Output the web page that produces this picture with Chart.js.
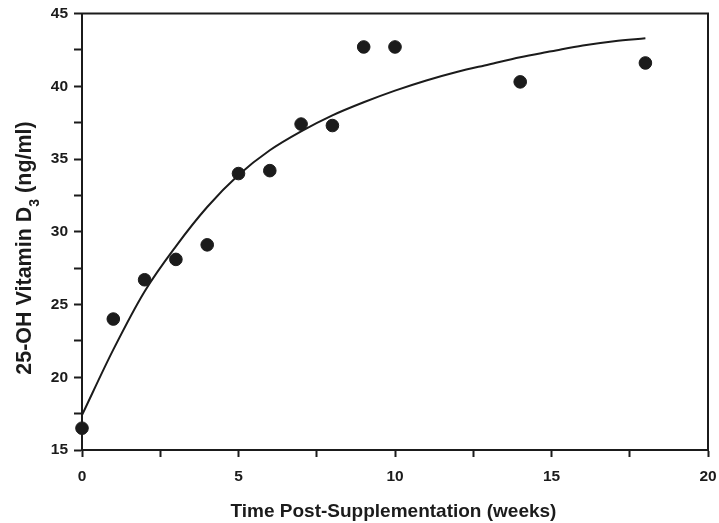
<!DOCTYPE html>
<html>
<head>
<meta charset="utf-8">
<script src="https://cdn.jsdelivr.net/npm/chart.js@4"></script>
<style>
  html, body { margin: 0; padding: 0; background: #fff; }
  #wrap { width: 719px; height: 523px; }
</style>
</head>
<body>
<div id="wrap"><canvas id="myChart"></canvas></div>
<script>
// measured points
const weeks = [0, 1, 2, 3, 4, 5, 6, 7, 8, 9, 10, 14, 18];
const vitD = [16.5, 24.0, 26.7, 28.1, 29.1, 34.0, 34.2, 37.4, 37.3, 42.7, 42.7, 40.3, 41.6];

// fitted curve
const fitWeeks = [0, 1, 2, 3, 4, 5, 6, 7, 8, 9, 10, 11, 12, 13, 14, 15, 16, 17, 18];
const fitVitD = [17.4, 21.9, 25.9, 29.0, 31.7, 33.9, 35.6, 36.9, 38.0, 38.9, 39.7, 40.4, 41.0, 41.5, 42.0, 42.4, 42.8, 43.1, 43.3];

const xTicks = [0, 5, 10, 15, 20];
const yTicks = [15, 20, 25, 30, 35, 40, 45];

const xTitle = 'Time Post-Supplementation (weeks)';
const yTitle = ['25-OH Vitamin D', '3', ' (ng/ml)'];

const ink = '#1b1b1b';
const fontFam = "'Liberation Sans', Arial, sans-serif";

const toXY = (xs, ys) => xs.map((x, i) => ({ x: x, y: ys[i] }));

const labelOnly = (list) => function (value) {
  return list.includes(value) ? value : '';
};

const frameAndTitles = {
  id: 'frameAndTitles',
  afterDraw(chart) {
    const { ctx, chartArea } = chart;
    ctx.save();
    ctx.strokeStyle = ink;
    ctx.lineWidth = 2;
    ctx.strokeRect(chartArea.left, chartArea.top, chartArea.right - chartArea.left, chartArea.bottom - chartArea.top);

    ctx.fillStyle = ink;
    ctx.font = 'bold 19px ' + fontFam;
    ctx.textAlign = 'center';
    ctx.textBaseline = 'alphabetic';
    ctx.fillText(xTitle, 393.5, 516.5);

    // y title, rotated, with subscript
    ctx.translate(31, 248);
    ctx.rotate(-Math.PI / 2);
    ctx.textAlign = 'left';
    const big = 'bold 21.5px ' + fontFam;
    const small = 'bold 14px ' + fontFam;
    ctx.font = big;
    const w1 = ctx.measureText(yTitle[0]).width;
    const w3 = ctx.measureText(yTitle[2]).width;
    ctx.font = small;
    const w2 = ctx.measureText(yTitle[1]).width;
    let x = -(w1 + w2 + w3) / 2;
    ctx.font = big;
    ctx.fillText(yTitle[0], x, 0);
    x += w1;
    ctx.font = small;
    ctx.fillText(yTitle[1], x, 8);
    x += w2;
    ctx.font = big;
    ctx.fillText(yTitle[2], x, 0);
    ctx.restore();
  }
};

const canvas = document.getElementById('myChart');
new Chart(canvas, {
  type: 'scatter',
  data: {
    datasets: [{
      label: 'Fit',
      type: 'line',
      data: toXY(fitWeeks, fitVitD),
      borderColor: ink,
      borderWidth: 2,
      pointRadius: 0,
      cubicInterpolationMode: 'monotone',
      fill: false,
      clip: false
    }, {
      label: '25-OH Vitamin D3',
      data: toXY(weeks, vitD),
      backgroundColor: ink,
      borderColor: ink,
      pointRadius: 6.3,
      pointHoverRadius: 6.3,
      clip: false
    }]
  },
  options: {
    responsive: true,
    maintainAspectRatio: false,
    animation: false,
    layout: { padding: { top: 13.5, right: 11, left: 0, bottom: 0 } },
    plugins: {
      legend: { display: false },
      tooltip: { enabled: false }
    },
    scales: {
      x: {
        type: 'linear',
        min: 0,
        max: 20,
        afterFit: (s) => { s.height = 73; s.paddingRight = 0; s.paddingLeft = 0; },
        ticks: {
          stepSize: 2.5,
          autoSkip: false,
          maxRotation: 0,
          padding: 10,
          color: ink,
          font: { family: fontFam, size: 15.5, weight: 'bold' },
          callback: labelOnly(xTicks)
        },
        grid: { drawOnChartArea: false, tickLength: 7, tickWidth: 2, tickColor: ink },
        border: { display: true, color: ink, width: 2 }
      },
      y: {
        min: 15,
        max: 45,
        afterFit: (s) => { s.width = 82; s.paddingTop = 0; s.paddingBottom = 0; },
        ticks: {
          stepSize: 2.5,
          autoSkip: false,
          padding: 6,
          color: ink,
          font: { family: fontFam, size: 15.5, weight: 'bold' },
          callback: labelOnly(yTicks)
        },
        grid: { drawOnChartArea: false, tickLength: 8, tickWidth: 2, tickColor: ink },
        border: { display: true, color: ink, width: 2 }
      }
    }
  },
  plugins: [frameAndTitles]
});
</script>
</body>
</html>
